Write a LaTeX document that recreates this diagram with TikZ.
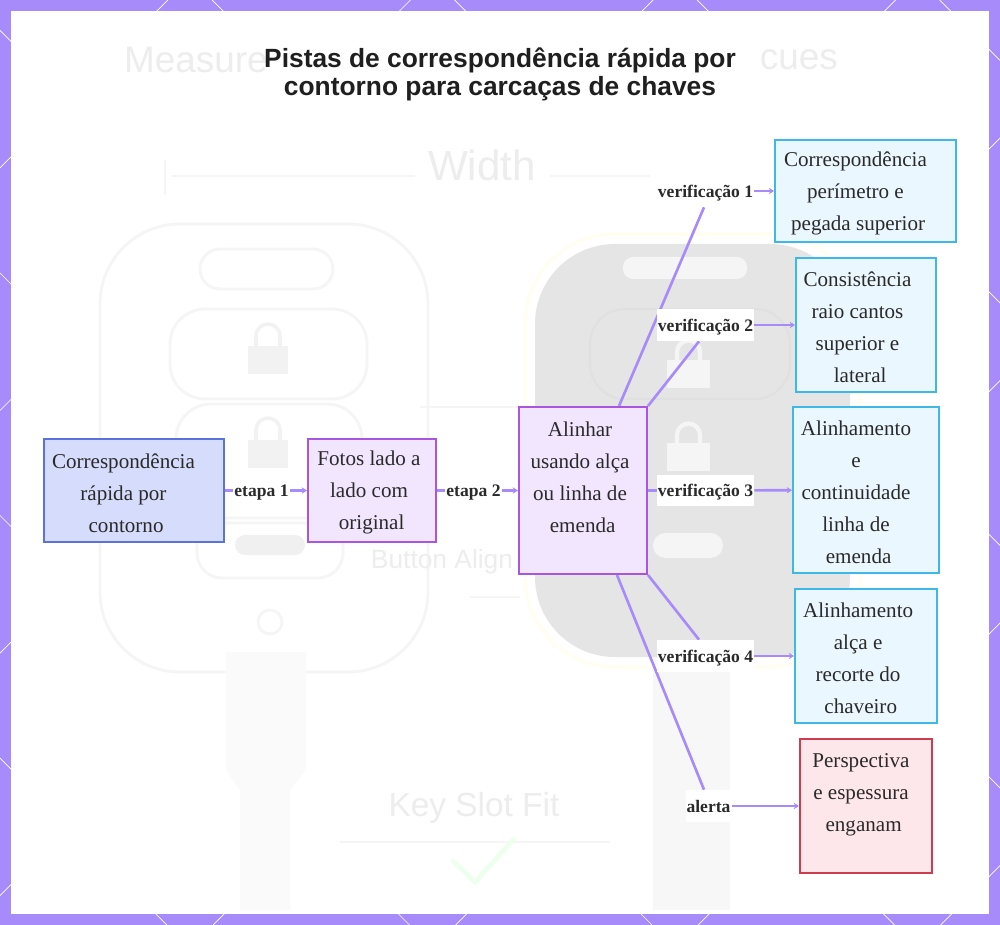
\documentclass[tikz,border=0pt]{standalone}
\usepackage{fontspec}
\setmainfont{Liberation Serif}
\newfontfamily\headfont{Liberation Sans}
\usepackage{xcolor}
\usetikzlibrary{arrows.meta,backgrounds}

\definecolor{frameviolet}{HTML}{A78BFA}
\definecolor{inkgray}{HTML}{2A2A2A}
\definecolor{startline}{HTML}{5B73D9}
\definecolor{startfill}{HTML}{D6DCFB}
\definecolor{stepline}{HTML}{A855E0}
\definecolor{stepfill}{HTML}{F1E6FD}
\definecolor{checkline}{HTML}{3FB7E8}
\definecolor{checkfill}{HTML}{EBF7FE}
\definecolor{alertline}{HTML}{CF3C50}
\definecolor{alertfill}{HTML}{FDE7EA}

\begin{document}
\begin{tikzpicture}[
        x=0.02cm, y=-0.02cm,
        off/.style={execute at begin node={\rightskip=#1 plus 1fil\relax\rule{0pt}{11pt}}},
        basebox/.style={rectangle, draw, line width=1.15pt, inner sep=0pt, align=flush center, text=inkgray,
            font=\fontsize{12}{18.2}\selectfont},
        startbox/.style={basebox, draw=startline, fill=startfill},
        stepbox/.style={basebox, draw=stepline, fill=stepfill},
        checkbox/.style={basebox, draw=checkline, fill=checkfill},
        alertbox/.style={basebox, draw=alertline, fill=alertfill},
        tag/.style={fill=white, inner xsep=0.5pt, inner ysep=0pt, minimum height=0.64cm, text=inkgray,
            text height=9pt, text depth=2pt, font=\fontsize{10}{11}\selectfont\bfseries},
        link/.style={draw=frameviolet, line width=1.5pt},
        arrow/.style={link, -{Stealth[length=3pt,width=3.6pt]}},
        ghost/.style={draw=black!4, line width=1.6pt},
        ghosttext/.style={text=black!7, font=\headfont\fontsize{19}{19}\selectfont}
    ]
        \useasboundingbox (0,0) rectangle (1000,925);

        \node[font=\headfont\bfseries\fontsize{15}{16}\selectfont, align=center, text=black!88] (title) at (500,74)
            {Pistas de correspondência rápida por\\contorno para carcaças de chaves};

        % Main chain
        \node[startbox, off=12pt, minimum width=3.6cm, minimum height=2.06cm, text width=3.6cm] (quick) at (134,490.5)
            {Correspondência\\rápida por\\\hspace*{3pt}contorno};
        \node[stepbox, off=3.4pt, minimum width=2.56cm, minimum height=2.06cm, text width=2.56cm] (photos) at (372,490.5)
            {Fotos lado a\\lado com\\\hspace*{3pt}original};
        \node[stepbox, off=3.4pt, minimum width=2.56cm, minimum height=3.34cm, text width=2.56cm] (align) at (583,490.5)
            {Alinhar\\usando alça\\ou linha de\\\hspace*{3pt}emenda\\\mbox{}};

        % Checks
        \node[checkbox, off=11.4pt, minimum width=3.62cm, minimum height=2.04cm, text width=3.62cm] (perimeter) at (865.5,191)
            {Correspondência\\perímetro e\\\hspace*{3pt}pegada superior};
        \node[checkbox, off=9.7pt, minimum width=2.8cm, minimum height=2.68cm, text width=2.8cm] (corners) at (866,325)
            {Consistência\\raio cantos\\superior e\\\hspace*{3pt}lateral};
        \node[checkbox, off=11.4pt, minimum width=2.92cm, minimum height=3.32cm, text width=2.92cm] (seam) at (866,490)
            {Alinhamento\\e\\continuidade\\linha de\\\hspace*{3pt}emenda};
        \node[checkbox, off=9pt, minimum width=2.84cm, minimum height=2.68cm, text width=2.84cm] (strap) at (866,656)
            {Alinhamento\\alça e\\recorte do\\\hspace*{3pt}chaveiro};
        \node[alertbox, off=5.7pt, minimum width=2.64cm, minimum height=2.68cm, text width=2.64cm] (warning) at (866,806)
            {Perspectiva\\e espessura\\\hspace*{3pt}enganam\\\mbox{}};

        % Labels on the connectors
        \node[tag] (etapaA) at (261.5,490.5) {etapa 1};
        \node[tag] (etapaB) at (473.5,490.5) {etapa 2};
        \node[tag] (verifA) at (705.5,191) {verificação 1};
        \node[tag] (verifB) at (705.5,325) {verificação 2};
        \node[tag] (verifC) at (705.5,490.5) {verificação 3};
        \node[tag] (verifD) at (705.5,656) {verificação 4};
        \node[tag] (alerta) at (708.5,806) {alerta};

        \begin{scope}[on background layer]
            % Frame with its diamond lattice
            \fill[frameviolet] (0,0) rectangle (1000,925);
            \begin{scope}
                \clip (0,0) rectangle (1000,925);
                \foreach \k in {-4,...,8} {
                    \pgfmathsetmacro{\sumk}{168+242.5*\k}
                    \pgfmathsetmacro{\difk}{212+242.5*\k}
                    \draw[white, line width=0.4pt] (\sumk,0) -- (\sumk-925,925);
                    \draw[white, line width=0.4pt] (\difk,0) -- (\difk+925,925);
                }
            \end{scope}
            \fill[white] (11,11) rectangle (989,914);

            % Faded photo behind the diagram: light key
            \draw[ghost, rounded corners=1.6cm] (100,224) rectangle (428,672);
            \draw[ghost, rounded corners=0.4cm] (200,249) rectangle (333,289);
            \draw[ghost, rounded corners=0.7cm] (170,309) rectangle (367,399);
            \draw[ghost, rounded corners=0.7cm] (176,404) rectangle (362,523);
            \draw[ghost, rounded corners=0.5cm] (197,518) rectangle (343,578);
            \draw[ghost] (270,622) circle (12);
            \fill[black!2] (226,652) -- (306,652) -- (306,770) -- (290,790) -- (290,910) -- (240,910) -- (240,790) -- (226,770) -- cycle;
            \fill[black!6, rounded corners=0.2cm] (235,535) rectangle (305,555);
            \foreach \y in {354,448} {
                \fill[black!5] (248,\y-8) rectangle (288,\y+20);
                \draw[black!5, line width=2pt] (256,\y-8) -- (256,\y-18) arc (180:360:12) -- (280,\y-8);
            }

            % Faded photo behind the diagram: dark key
            \fill[black!3] (653,650) rectangle (730,910);
            \draw[yellow!6!white, line width=2pt, rounded corners=1.8cm] (525,234) rectangle (860,667);
            \fill[black!10, rounded corners=1.6cm] (535,244) rectangle (850,657);
            \fill[black!4, rounded corners=0.2cm] (623,257) rectangle (747,279);
            \fill[black!4, rounded corners=0.25cm] (653,533) rectangle (723,558);
            \draw[black!12, line width=1.2pt, rounded corners=0.7cm] (590,309) rectangle (790,399);
            \foreach \y in {352,435} {
                \fill[black!4] (667,\y+8) rectangle (710,\y+36);
                \draw[black!4, line width=2.4pt] (677,\y+8) -- (677,\y) arc (180:360:11.5) -- (700,\y+8);
            }

            % Faded measuring lines and captions
            \node[ghosttext, font=\headfont\fontsize{21}{21}\selectfont, anchor=west] (ghostA) at (118,60) {Measure};
            \node[ghosttext, font=\headfont\fontsize{21}{21}\selectfont, anchor=east] (ghostB) at (844,60) {cues};
            \node[ghosttext, font=\headfont\fontsize{24}{24}\selectfont] (ghostC) at (482,165) {Width};
            \node[ghosttext, font=\headfont\fontsize{15}{15}\selectfont] (ghostD) at (442,562) {Button Align};
            \node[ghosttext] (ghostE) at (474,808) {Key Slot Fit};
            \draw[ghost] (165,160) -- (165,195);
            \draw[ghost] (172,176) -- (415,176);
            \draw[ghost] (550,176) -- (650,176);
            \draw[ghost] (420,407) -- (520,407);
            \draw[ghost] (470,597) -- (520,597);
            \draw[ghost] (340,842) -- (610,842);
            \draw[green!7!white, line width=2.6pt] (452,860) -- (475,882) -- (515,838);

            % Connections
            \draw[link] (quick) -- (etapaA);
            \draw[arrow] (etapaA) -- (photos);
            \draw[link] (photos) -- (etapaB);
            \draw[arrow] (etapaB) -- (align);

            \draw[link] ([xshift=0.72cm]align.north) -- ([xshift=-0.03cm]verifA.south);
            \draw[link] (align.north east) -- ([xshift=-0.13cm]verifB.south);
            \draw[link] (align.east |- verifC) -- (verifC);
            \draw[link] (align.south east) -- ([xshift=-0.13cm]verifD.north);
            \draw[link] ([xshift=0.68cm]align.south) -- ([xshift=-0.09cm]alerta.north);

            \draw[arrow] (verifA) -- (perimeter);
            \draw[arrow] (verifB) -- (corners);
            \draw[arrow] (verifC) -- (seam);
            \draw[arrow] (verifD) -- (strap);
            \draw[arrow] (alerta) -- (warning);
        \end{scope}
    \end{tikzpicture}
\end{document}
